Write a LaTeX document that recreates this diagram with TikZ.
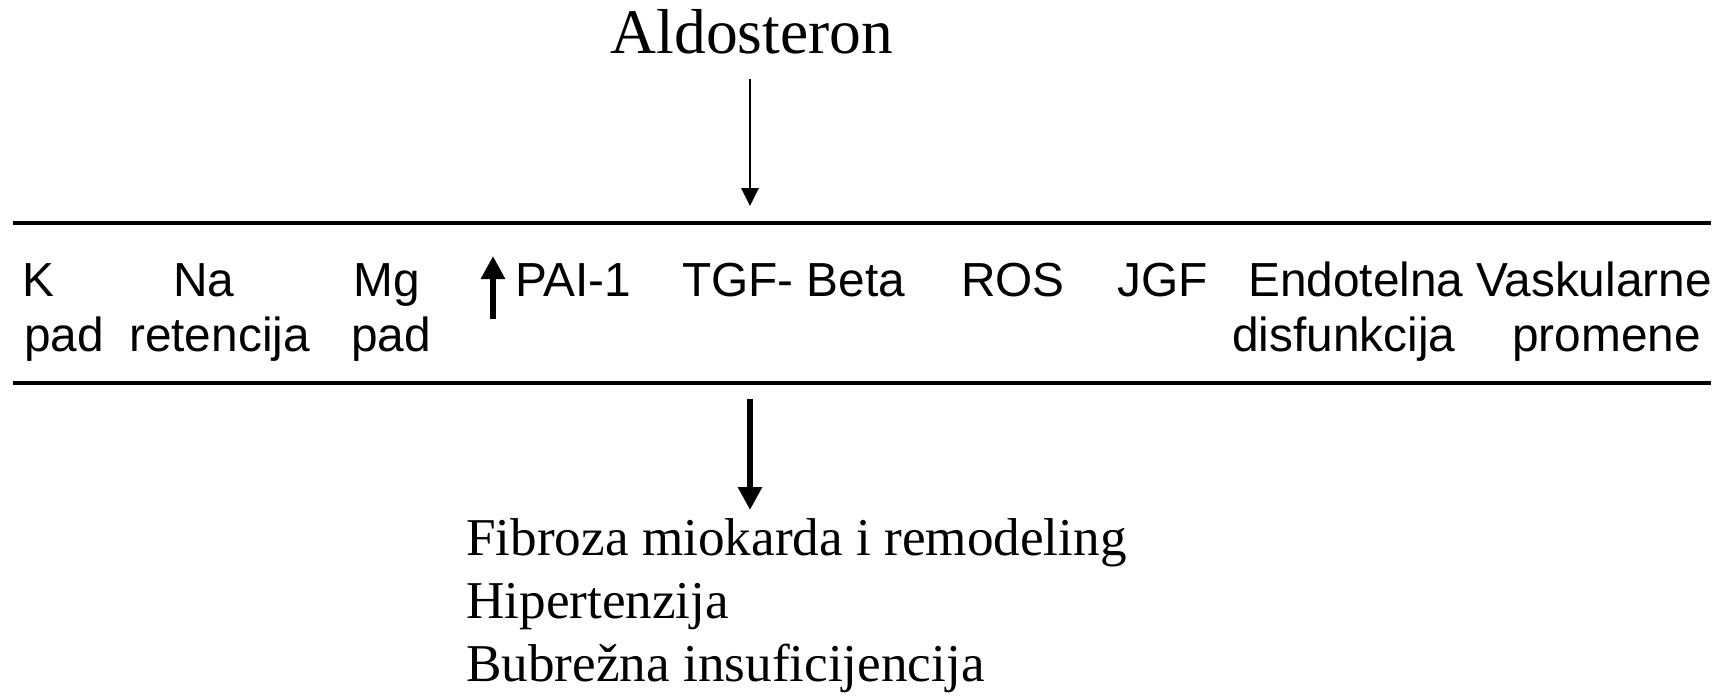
\documentclass[tikz,border=0pt]{standalone}
\usepackage{fontspec}
\setmainfont{Liberation Serif}
\newfontfamily\arialf{Liberation Sans}
\usetikzlibrary{arrows.meta}
\begin{document}
\begin{tikzpicture}[x=1pt,y=-1pt,
  lbl/.style={inner sep=0pt,anchor=base west,font=\arialf\fontsize{47.8}{48}\selectfont},
  res/.style={inner sep=0pt,anchor=base west,font=\fontsize{53.2}{54}\selectfont},
  rule/.style={line width=3.5pt},
  thinarrow/.style={line width=2.8pt,-{Triangle[length=18pt,width=17pt]}},
  thickarrow/.style={line width=6pt,-{Triangle[length=23pt,width=23pt]}}]
\useasboundingbox (0,0) rectangle (1731,696);
\node[inner sep=0pt,anchor=base,font=\fontsize{63.5}{64}\selectfont] (ald) at (752,53) {Aldosteron};
\coordinate (a1s) at (750,79);
\coordinate (a1e) at (750,206);
\draw[thinarrow] (a1s) -- (a1e);
\coordinate (t1) at (13,223);
\coordinate (t2) at (1711,223);
\coordinate (b1) at (13,383);
\coordinate (b2) at (1711,383);
\draw[rule] (t1) -- (t2);
\draw[rule] (b1) -- (b2);
\node[lbl] (k1) at (22,296) {K};
\node[lbl] (k2) at (24,351) {pad};
\node[lbl] (n1) at (173,296) {Na};
\node[lbl] (n2) at (129,351) {retencija};
\node[lbl] (m1) at (353,296) {Mg};
\node[lbl] (m2) at (351,351) {pad};
\coordinate (u1) at (493,319);
\coordinate (u2) at (493,256);
\draw[line width=6.5pt,-{Triangle[length=23pt,width=23pt]}] (u1) -- (u2);
\node[lbl] (pai) at (515,296) {PAI-1};
\node[lbl] (tgf) at (682,296) {TGF- Beta};
\node[lbl] (ros) at (961,296) {ROS};
\node[lbl] (jgf) at (1117,296) {JGF};
\node[lbl] (e1) at (1248,296) {Endotelna};
\node[lbl] (e2) at (1232,351) {disfunkcija};
\node[lbl] (v1) at (1476,296) {Vaskularne};
\node[lbl] (v2) at (1512,351) {promene};
\coordinate (a2s) at (750,399);
\coordinate (a2e) at (750,510);
\draw[thickarrow] (a2s) -- (a2e);
\node[res] (r1) at (466,555) {Fibroza miokarda i remodeling};
\node[res] (r2) at (466,618) {Hipertenzija};
\node[res] (r3) at (466,681) {Bubrežna insuficijencija};
\end{tikzpicture}
\end{document}
